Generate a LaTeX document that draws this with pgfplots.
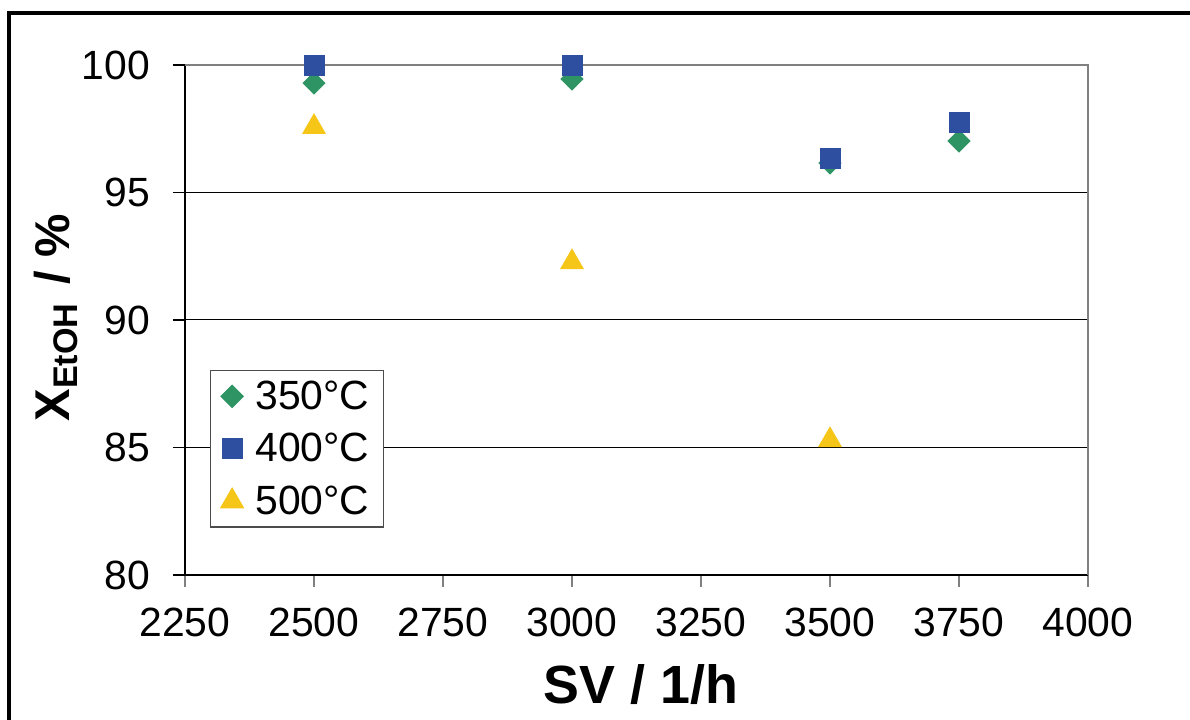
\documentclass[border=0pt]{standalone}
\usepackage{pgfplots}
\pgfplotsset{compat=1.18}
\usepackage{fontspec}
\setmainfont{Liberation Sans}
\definecolor{cgreen}{HTML}{2E9464}
\definecolor{cblue}{HTML}{2E4FA0}
\definecolor{cyellow}{HTML}{F5C518}
\definecolor{cgray}{HTML}{808080}
\begin{document}
\begin{tikzpicture}
\useasboundingbox (0,0) rectangle (595bp,360bp);
\draw[line width=1.6bp] (4.5bp,-20bp) -- (4.5bp,353.5bp) -- (620bp,353.5bp);
\begin{axis}[
  scale only axis,
  width=451.5bp, height=255bp,
  at={(92.5bp,72.5bp)}, anchor=south west,
  xmin=2250, xmax=4000, ymin=80, ymax=100,
  xtick={2250,2500,...,4000},
  ytick={80,85,...,100},
  /pgf/number format/1000 sep={},
  /pgf/number format/assume math mode=true,
  tick label style={font=\fontsize{20.5}{24}\selectfont},
  ytick style={black, line width=0.6bp},
  xtick style={cgray, line width=0.8bp},
  tick align=outside,
  major tick length=6bp,
  xtick pos=bottom, ytick pos=left,
  axis line style={line width=0.8bp},
  ymajorgrids,
  major grid style={black, line width=0.5bp},
  axis x line*=bottom,
  axis y line*=left,
  xticklabel style={yshift=-7bp},
  yticklabel style={xshift=-8bp},
  clip=false,
  legend style={at={(0.028,0.402)}, anchor=north west, draw=black!70, line width=0.6bp,
    font=\fontsize{20.5}{24}\selectfont, row sep=6.5bp, inner xsep=5bp, inner ysep=3bp},
  legend cell align=left,
]
\draw[cgray, line width=1.2bp] (axis cs:2250,100) -- (axis cs:4000,100) -- (axis cs:4000,80);
\addplot[only marks, mark=square*, mark size=3.9bp, color=cgreen, mark options={fill=cgreen, draw=cgreen, rotate=45}]
  coordinates {(2500,99.29) (3000,99.45) (3500,96.16) (3750,97.02)};
\addlegendentry{\hspace{4bp}350°C}
\addplot[only marks, mark=square*, mark size=5bp, color=cblue, mark options={fill=cblue, draw=cblue}]
  coordinates {(2500,100) (3000,100) (3500,96.35) (3750,97.76)};
\addlegendentry{\hspace{4bp}400°C}
\addplot[only marks, mark=triangle*, mark size=6.5bp, color=cyellow, mark options={fill=cyellow, draw=cyellow}]
  coordinates {(2500,97.57) (3000,92.27) (3500,85.29)};
\addlegendentry{\hspace{4bp}500°C}
\end{axis}
\node[font=\fontsize{27}{30}\selectfont\bfseries] at (320.5bp,17.5bp) {SV / 1/h};
\node[font=\fontsize{24.5}{28}\selectfont\bfseries, rotate=90] at (28bp,201bp) {X\textsubscript{EtOH}\kern2bp{} / \%};
\end{tikzpicture}
\end{document}
